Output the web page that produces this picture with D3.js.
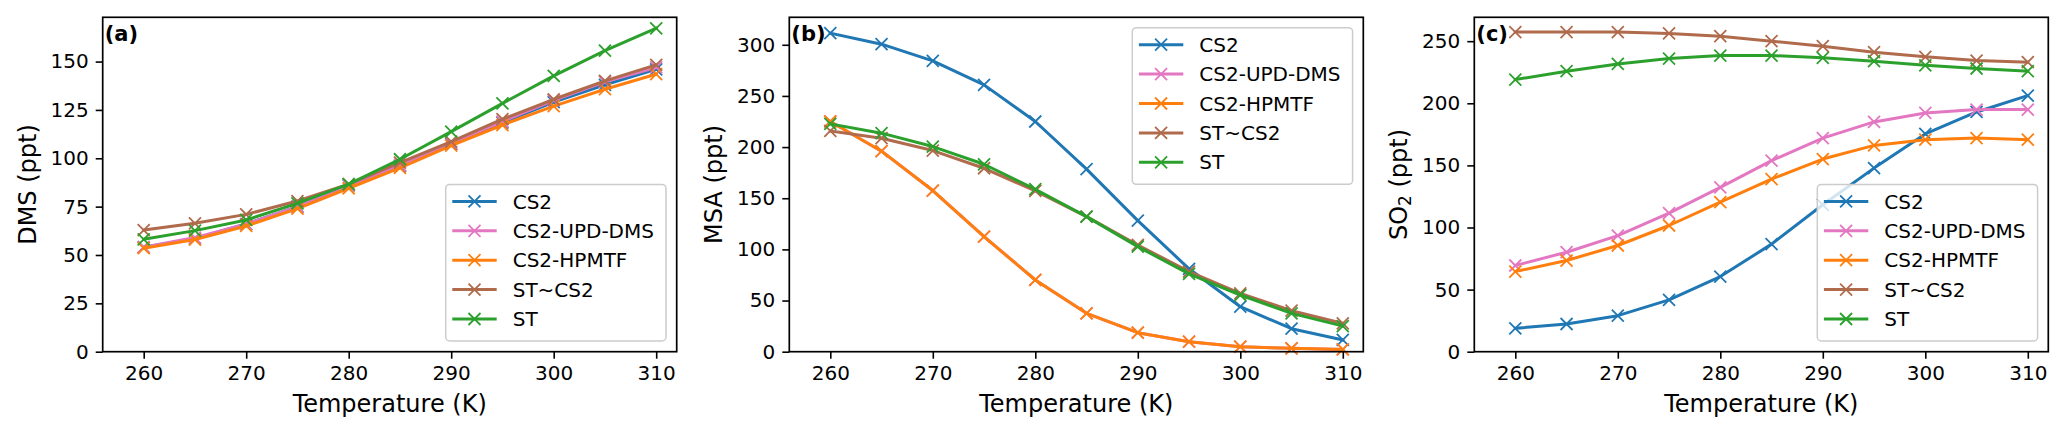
<!DOCTYPE html>
<html>
<head>
<meta charset="utf-8">
<script src="https://cdn.jsdelivr.net/npm/d3@7"></script>
<style>
  body { margin: 0; background: #fff; }
  svg { display: block; font-family: 'DejaVu Sans', sans-serif; }
</style>
</head>
<body>
<svg id="chart" width="2067" height="436"></svg>
<script>
/* Three panels of DMS, MSA and SO2 against temperature, five model runs each.
   Values. */

const temperature = [260, 265, 270, 275, 280, 285, 290, 295, 300, 305, 310];
const seriesNames = ['CS2', 'CS2-UPD-DMS', 'CS2-HPMTF', 'ST~CS2', 'ST'];
const seriesColors = ['#1f77b4', '#e377c2', '#ff7f0e', '#b06a4c', '#2ca02c'];

// panel (a) DMS
const dmsCS2    = [54, 58.5, 66, 75, 86, 96, 107.5, 118.5, 129, 138, 146];
const dmsUpdDms = [54, 59, 66, 75, 86, 96.5, 108, 119, 130, 139.5, 147];
const dmsHpmtf  = [53.5, 58, 65, 74, 84.5, 95, 106.5, 117.2, 127, 135.7, 143.5];
const dmsStCS2  = [62.9, 66.4, 71, 77.9, 86.6, 97.8, 108.6, 120.2, 130.5, 140, 148.3];
const dmsST     = [58.1, 62.6, 68.1, 76.7, 86.6, 99.5, 113.8, 128.4, 142.6, 155.7, 167.2];

// panel (b) MSA
const msaCS2    = [311.4, 300.6, 284.3, 260.8, 225, 178.4, 128.1, 81, 44, 22.5, 11.5];
const msaUpdDms = [225, 196, 157.5, 112.5, 70.1, 37.5, 18.6, 9.8, 4.9, 3.3, 2.3];
const msaHpmtf  = [225, 196, 157.5, 112.5, 70.1, 37.5, 18.6, 9.8, 4.9, 3.3, 2.3];
const msaStCS2  = [215.8, 208.7, 196.6, 179.3, 157.2, 132, 104.3, 78.3, 57, 40.1, 27.7];
const msaST     = [222.7, 213.6, 200.5, 183.2, 158.8, 132, 102.7, 76, 55.4, 37.5, 25.1];

// panel (c) SO2
const so2CS2    = [18.8, 22.3, 29, 41.7, 60.5, 86.6, 118.3, 147.8, 175.3, 193, 206.2];
const so2UpdDms = [69.4, 80.1, 93.5, 111.6, 132.3, 153.8, 172, 185, 192.2, 194.9, 194.9];
const so2Hpmtf  = [64.5, 73.4, 85.5, 101.6, 120.4, 139, 155.1, 166.1, 170.7, 172, 170.7];
const so2StCS2  = [257.3, 257.3, 257.3, 256.2, 254, 250, 246, 241.1, 237.4, 234.4, 233.1];
const so2ST     = [219.1, 225.8, 231.7, 236, 238.4, 238.4, 236.6, 233.9, 230.6, 228, 225.8];

const yTicksDms = [0, 25, 50, 75, 100, 125, 150];
const yTicksMsa = [0, 50, 100, 150, 200, 250, 300];
const yTicksSo2 = [0, 50, 100, 150, 200, 250];
const xTicks = [260, 270, 280, 290, 300, 310];

const panels = [
    {tag: '(a)', label: 'DMS', series: [dmsCS2, dmsUpdDms, dmsHpmtf, dmsStCS2, dmsST], ticks: yTicksDms, legend: 'lower'},
    {tag: '(b)', label: 'MSA', series: [msaCS2, msaUpdDms, msaHpmtf, msaStCS2, msaST], ticks: yTicksMsa, legend: 'upper'},
    {tag: '(c)', label: 'SO2', series: [so2CS2, so2UpdDms, so2Hpmtf, so2StCS2, so2ST], ticks: yTicksSo2, legend: 'lower'}
];

const LEFTS = [102.7, 789.3, 1474.3];
const TOP = 17.3, WIDTH = 574, HEIGHT = 334.4;
const TICK_FONT = 20, LABEL_FONT = 24;

const svg = d3.select('#chart');
svg.append('rect').attr('width', 2067).attr('height', 436).attr('fill', '#fff');

function drawMarker(g, x, y, color, r) {
    g.append('path')
        .attr('d', `M${x - r},${y - r}L${x + r},${y + r}M${x - r},${y + r}L${x + r},${y - r}`)
        .attr('stroke', color)
        .attr('stroke-width', 1.8)
        .attr('fill', 'none');
}

panels.forEach((panel, i) => {
    let g = svg.append('g').attr('transform', `translate(${LEFTS[i]},${TOP})`);

    // matplotlib-like autoscale, bottom pinned at 0
    let all = panel.series.flat();
    let lo = d3.min(all), hi = d3.max(all);
    let x = d3.scaleLinear().domain([256, 312]).range([0, WIDTH]);
    let y = d3.scaleLinear().domain([0, hi + 0.05 * (hi - lo)]).range([HEIGHT, 0]);

    // axes
    let xAxis = g.append('g').attr('transform', `translate(0,${HEIGHT})`)
        .call(d3.axisBottom(x).tickValues(xTicks).tickSize(7).tickPadding(7).tickFormat(d3.format('d')));
    let yAxis = g.append('g')
        .call(d3.axisLeft(y).tickValues(panel.ticks).tickSize(7).tickPadding(7).tickFormat(d3.format('d')));
    [xAxis, yAxis].forEach(a => {
        a.select('.domain').remove();
        a.selectAll('line').attr('stroke', '#000').attr('stroke-width', 1.6);
        a.selectAll('text').attr('fill', '#000')
            .style('font-family', 'DejaVu Sans').style('font-size', TICK_FONT + 'px');
    });

    // lines + markers
    let line = d3.line().x((d, k) => x(temperature[k])).y(d => y(d));
    panel.series.forEach((vals, s) => {
        g.append('path')
            .datum(vals)
            .attr('d', line)
            .attr('fill', 'none')
            .attr('stroke', seriesColors[s])
            .attr('stroke-width', 3)
            .attr('stroke-linejoin', 'round')
            .attr('stroke-linecap', 'square');
        vals.forEach((v, k) => drawMarker(g, x(temperature[k]), y(v), seriesColors[s], 6));
    });

    // spines
    g.append('rect')
        .attr('width', WIDTH).attr('height', HEIGHT)
        .attr('fill', 'none').attr('stroke', '#000').attr('stroke-width', 1.7);

    // panel tag
    g.append('text')
        .attr('x', 2).attr('y', 23.4)
        .attr('font-size', 21).attr('font-weight', 'bold')
        .text(panel.tag);

    // x label
    g.append('text')
        .attr('x', WIDTH / 2).attr('y', 395)
        .attr('text-anchor', 'middle')
        .attr('font-size', LABEL_FONT)
        .text('Temperature (K)');

    // y label
    let yl = g.append('text')
        .attr('transform', `translate(-67,${HEIGHT / 2}) rotate(-90)`)
        .attr('text-anchor', 'middle')
        .attr('font-size', LABEL_FONT);
    if (panel.label === 'SO2') {
        yl.append('tspan').text('SO');
        yl.append('tspan').attr('font-size', 17).attr('dy', 4).text('2');
        yl.append('tspan').attr('dy', -4).text(' (ppt)');
    } else {
        yl.text(panel.label + ' (ppt)');
    }

    // legend
    let lw = 220.3, lh = 156.6;
    let lx = WIDTH - 10.7 - lw;
    let ly = panel.legend === 'upper' ? 10.4 : HEIGHT - 10.7 - lh;
    let lg = g.append('g').attr('transform', `translate(${lx},${ly})`);
    lg.append('rect')
        .attr('width', lw).attr('height', lh).attr('rx', 4)
        .attr('fill', '#fff').attr('fill-opacity', 0.8)
        .attr('stroke', '#cccccc').attr('stroke-width', 1.5);
    seriesNames.forEach((name, s) => {
        let cy = 17 + s * 29.4;
        lg.append('line')
            .attr('x1', 6.6).attr('x2', 51).attr('y1', cy).attr('y2', cy)
            .attr('stroke', seriesColors[s]).attr('stroke-width', 3);
        drawMarker(lg, 28.8, cy, seriesColors[s], 6);
        lg.append('text')
            .attr('x', 67).attr('y', cy).attr('dy', '0.36em')
            .attr('font-size', TICK_FONT)
            .text(name);
    });
});
</script>
</body>
</html>
